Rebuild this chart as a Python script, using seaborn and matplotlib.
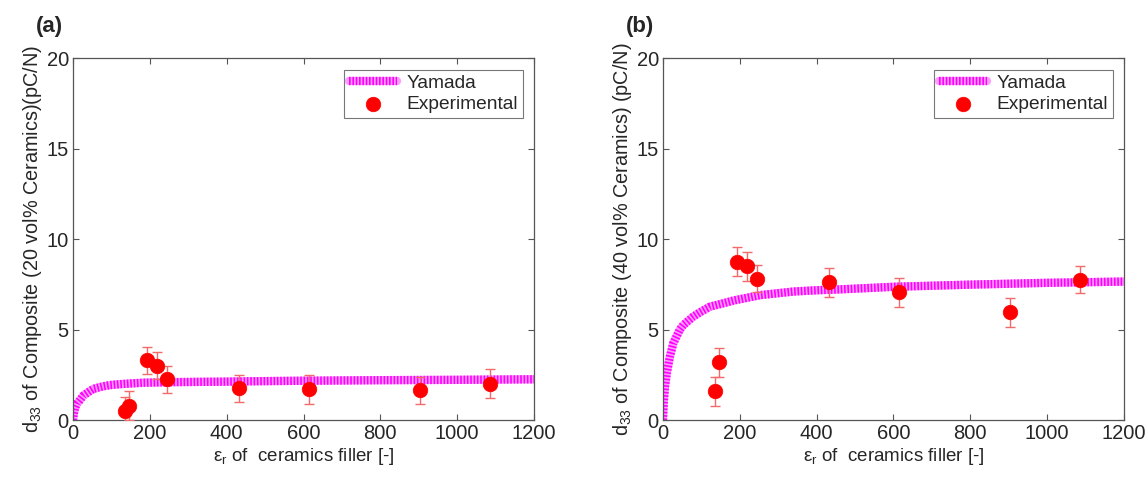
import numpy as np
import pandas as pd
import matplotlib
matplotlib.use("Agg")
import matplotlib.pyplot as plt
import seaborn as sns
from matplotlib.legend_handler import HandlerTuple

# ---------------------------------
# DATA
# ---------------------------------
eps_r = [136, 145, 193, 219, 245, 432, 615, 904, 1085]

d33_20 = [0.5, 0.8, 3.3, 3.0, 2.25, 1.75, 1.7, 1.65, 2.0]
err_20 = [0.75, 0.8, 0.75, 0.75, 0.75, 0.75, 0.8, 0.75, 0.8]

d33_40 = [1.6, 3.2, 8.75, 8.5, 7.8, 7.6, 7.05, 5.95, 7.75]
err_40 = [0.8, 0.8, 0.8, 0.8, 0.75, 0.8, 0.8, 0.8, 0.75]

yam_x = [0, 2, 5, 10, 18, 27, 44, 53, 78, 96, 122, 166, 183, 253, 340, 400, 462, 600, 800, 1000, 1200]
yam_20 = [0, 0.35, 0.65, 0.9, 1.1, 1.35, 1.6, 1.72, 1.86, 1.93, 1.98, 2.04, 2.06, 2.09, 2.11, 2.12, 2.14, 2.17, 2.2, 2.22, 2.25]
yam_40 = [0, 1.0, 1.8, 2.6, 3.5, 4.25, 5.0, 5.25, 5.7, 5.95, 6.26, 6.5, 6.6, 6.9, 7.1, 7.17, 7.22, 7.36, 7.48, 7.58, 7.65]

panels = [
    ("(a)", d33_20, err_20, yam_20, "d$_{33}$ of Composite (20 vol% Ceramics)(pC/N)"),
    ("(b)", d33_40, err_40, yam_40, "d$_{33}$ of Composite (40 vol% Ceramics) (pC/N)"),
]

# ---------------------------------
# STYLE
# ---------------------------------
sns.set_style("ticks")
plt.rcParams["font.family"] = ["Liberation Sans", "DejaVu Sans"]
plt.rcParams["mathtext.fontset"] = "custom"
plt.rcParams["mathtext.rm"] = "Liberation Sans"
plt.rcParams["mathtext.it"] = "Liberation Sans"

fig = plt.figure(figsize=(11.48, 4.8), dpi=100)
lefts = [0.0636, 0.5775]

for (tag, d33, err, yam, ylab), left in zip(panels, lefts):
    ax = fig.add_axes([left, 0.125, 0.4016, 0.754])

    curve = pd.DataFrame({"x": yam_x, "y": yam})
    # light base + fine magenta stripes (MATLAB dotted thick line look)
    sns.lineplot(data=curve, x="x", y="y", ax=ax, color="#ff9cff",
                 linewidth=6, zorder=2)
    sns.lineplot(data=curve, x="x", y="y", ax=ax, color="#ff00ff",
                 linewidth=6, linestyle=(0, (0.2, 0.2)), zorder=2.1)
    base_line, dash_line = ax.get_lines()[0], ax.get_lines()[1]
    dash_line.set_dash_capstyle("butt")

    ax.errorbar(eps_r, d33, yerr=err, fmt="none", ecolor="#f26a6a",
                elinewidth=1, capsize=3.5, capthick=1, zorder=3)
    pts = pd.DataFrame({"x": eps_r, "y": d33})
    sns.scatterplot(data=pts, x="x", y="y", ax=ax, color="red", s=110,
                    edgecolor="red", linewidth=0.5, zorder=4)
    dots = ax.collections[-1]

    ax.set_xlim(0, 1200)
    ax.set_ylim(0, 20)
    ax.set_xticks(np.arange(0, 1201, 200))
    ax.set_yticks([0, 5, 10, 15, 20])
    ax.tick_params(direction="in", top=True, right=True, labelsize=14.5,
                   length=4, width=0.8, color="#555555", pad=3)
    for s in ax.spines.values():
        s.set_color("#555555")
        s.set_linewidth(0.9)

    ax.set_xlabel("$\\epsilon_r$ of  ceramics filler [-]", fontsize=13.5,
                  labelpad=2)
    ax.set_ylabel(ylab, fontsize=14.3, labelpad=2)

    leg = ax.legend([(base_line, dash_line), dots], ["Yamada", "Experimental"],
                    handler_map={tuple: HandlerTuple(ndivide=1, pad=0)},
                    loc="upper right", fontsize=13.8, frameon=True,
                    fancybox=False, edgecolor="#555555", borderpad=0.25,
                    handlelength=2.5, handletextpad=0.5, labelspacing=0.2,
                    borderaxespad=0.6)
    leg.get_frame().set_linewidth(0.8)

    fig.text(left - 0.032, 0.945, tag, fontsize=16, fontweight="bold",
             ha="left", va="center")

fig.savefig("out.png", dpi=100)
